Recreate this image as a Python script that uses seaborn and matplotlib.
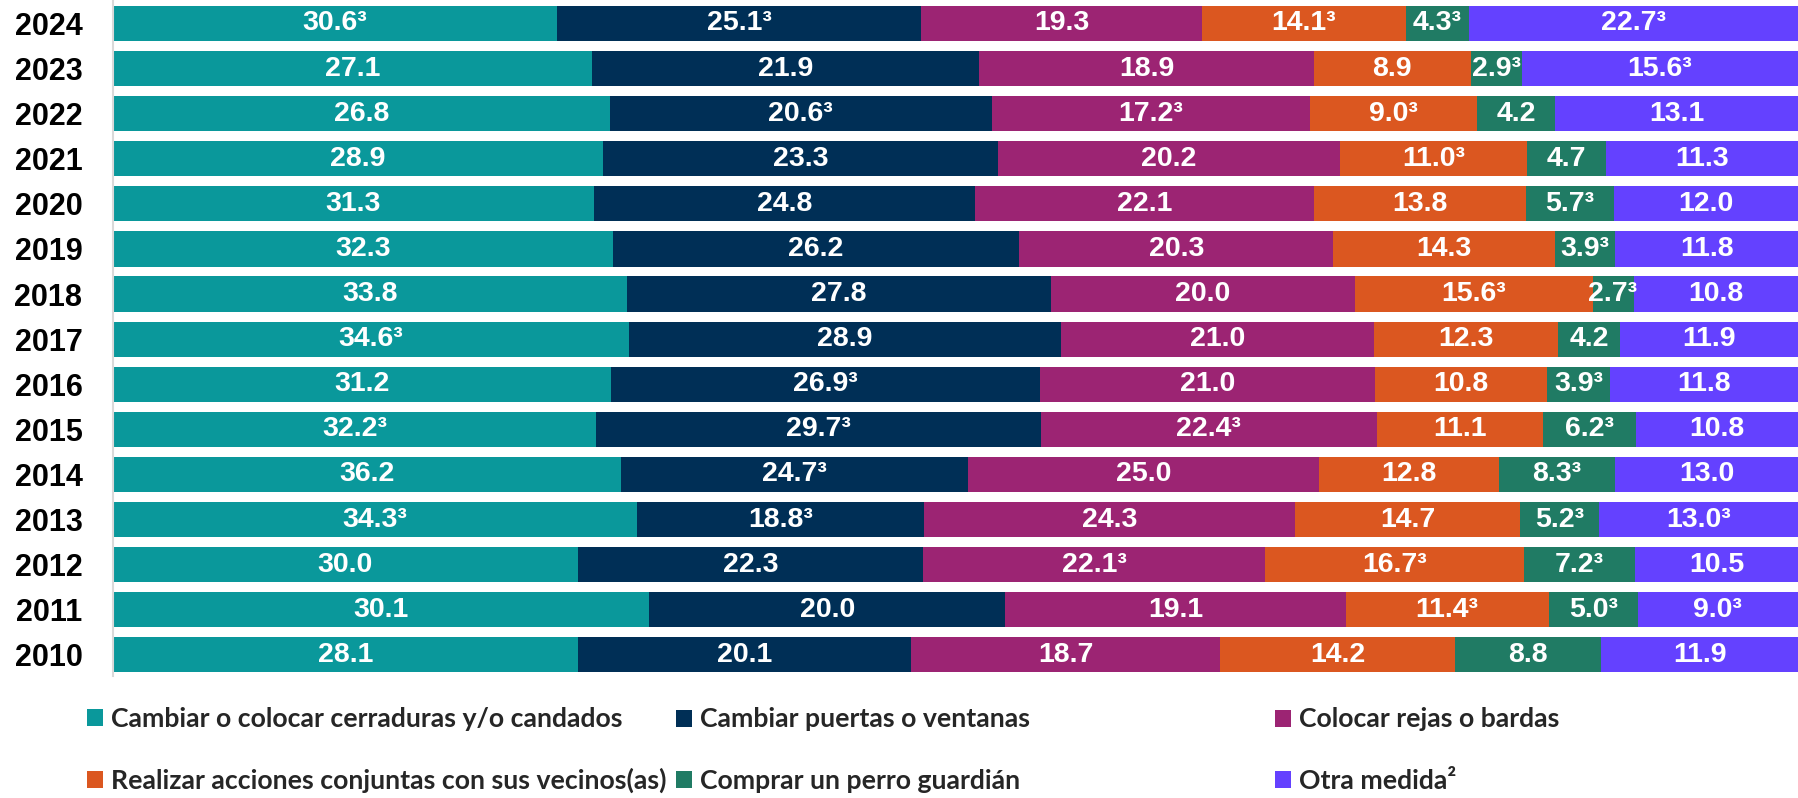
import numpy as np
import pandas as pd
import matplotlib
matplotlib.use("Agg")
import matplotlib.pyplot as plt
import matplotlib.colors as mcolors
from matplotlib.patches import Patch
import seaborn as sns

# ---------------- data ----------------
years = [2024, 2023, 2022, 2021, 2020, 2019, 2018, 2017, 2016, 2015, 2014, 2013, 2012, 2011, 2010]

series_names = [
    "Cambiar o colocar cerraduras y/o candados",
    "Cambiar puertas o ventanas",
    "Colocar rejas o bardas",
    "Realizar acciones conjuntas con sus vecinos(as)",
    "Comprar un perro guardián",
    "Otra medida²",
]

cerraduras = [30.6, 27.1, 26.8, 28.9, 31.3, 32.3, 33.8, 34.6, 31.2, 32.2, 36.2, 34.3, 30.0, 30.1, 28.1]
cerraduras_flag = [1, 0, 0, 0, 0, 0, 0, 1, 0, 1, 0, 1, 0, 0, 0]

puertas = [25.1, 21.9, 20.6, 23.3, 24.8, 26.2, 27.8, 28.9, 26.9, 29.7, 24.7, 18.8, 22.3, 20.0, 20.1]
puertas_flag = [1, 0, 1, 0, 0, 0, 0, 0, 1, 1, 1, 1, 0, 0, 0]

rejas = [19.3, 18.9, 17.2, 20.2, 22.1, 20.3, 20.0, 21.0, 21.0, 22.4, 25.0, 24.3, 22.1, 19.1, 18.7]
rejas_flag = [0, 0, 1, 0, 0, 0, 0, 0, 0, 1, 0, 0, 1, 0, 0]

vecinos = [14.1, 8.9, 9.0, 11.0, 13.8, 14.3, 15.6, 12.3, 10.8, 11.1, 12.8, 14.7, 16.7, 11.4, 14.2]
vecinos_flag = [1, 0, 1, 1, 0, 0, 1, 0, 0, 0, 0, 0, 1, 1, 0]

perro = [4.3, 2.9, 4.2, 4.7, 5.7, 3.9, 2.7, 4.2, 3.9, 6.2, 8.3, 5.2, 7.2, 5.0, 8.8]
perro_flag = [1, 1, 0, 0, 1, 1, 1, 0, 1, 1, 1, 1, 1, 1, 0]

otra = [22.7, 15.6, 13.1, 11.3, 12.0, 11.8, 10.8, 11.9, 11.8, 10.8, 13.0, 13.0, 10.5, 9.0, 11.9]
otra_flag = [1, 1, 0, 0, 0, 0, 0, 0, 0, 0, 0, 1, 0, 1, 0]

colors = ["#0A989B", "#002F56", "#9C2473", "#DB5720", "#207B64", "#6441FF"]

series_values = [cerraduras, puertas, rejas, vecinos, perro, otra]
series_flags = [cerraduras_flag, puertas_flag, rejas_flag, vecinos_flag, perro_flag, otra_flag]

# ---------------- figure ----------------
sns.set_theme(style="white")
plt.rcParams["font.family"] = ["Liberation Sans Narrow", "Liberation Sans", "DejaVu Sans"]

W, H = 1798, 798
fig = plt.figure(figsize=(W / 100, H / 100), dpi=100)
ax_left = 113 / W
ax_bottom = 1 - 676 / H
ax = fig.add_axes([ax_left, ax_bottom, 1 - ax_left, 1 - ax_bottom])

rows = []
for name, vals in zip(series_names, series_values):
    for y, v in zip(years, vals):
        rows.append({"year": y, "medida": name, "valor": v})
df = pd.DataFrame(rows)

palette = dict(zip(series_names, colors))
sns.histplot(
    data=df, y="year", hue="medida", weights="valor",
    multiple="fill", discrete=True, shrink=0.78,
    hue_order=series_names[::-1], palette=palette,
    alpha=1, linewidth=0, legend=False, ax=ax,
)

# value labels, matched by colour
rgb_list = [mcolors.to_rgb(c) for c in colors]
for p in ax.patches:
    fc = p.get_facecolor()[:3]
    idx = int(np.argmin([sum((a - b) ** 2 for a, b in zip(fc, c)) for c in rgb_list]))
    yc = p.get_y() + p.get_height() / 2
    yr = int(round(yc))
    if yr not in years:
        continue
    j = years.index(yr)
    v = series_values[idx][j]
    lab = f"{v:.1f}" + ("³" if series_flags[idx][j] else "")
    ax.text(p.get_x() + p.get_width() / 2, yc, lab, ha="center", va="center",
            color="white", fontsize=20.5, fontweight="bold")

ax.set_xlim(0, 1)
ax.set_ylim(2010 - 0.47, 2024 + 0.52)
ax.set_yticks(years)
ax.set_yticklabels([str(y) for y in years], fontsize=22, fontweight="bold",
                   family=["Liberation Sans", "DejaVu Sans"], color="black")
ax.set_xticks([])
ax.set_xlabel("")
ax.set_ylabel("")
ax.tick_params(axis="y", length=0, pad=22)
for s in ["top", "right", "bottom"]:
    ax.spines[s].set_visible(False)
ax.spines["left"].set_color("#D9D9D9")
ax.spines["left"].set_linewidth(1.5)

# legend: three columns, two rows
col_x = [87 / W, 676 / W, 1275 / W]
leg_font = {"family": ["Lato", "DejaVu Sans"], "weight": "bold", "size": 19.2}
for c in range(3):
    idxs = [c, c + 3]
    handles = [Patch(facecolor=colors[i], edgecolor="none") for i in idxs]
    labels = [series_names[i] for i in idxs]
    fig.legend(handles, labels, loc="center left", bbox_to_anchor=(col_x[c], 0.06),
               frameon=False, prop=leg_font, handlelength=0.6, handleheight=0.6,
               handletextpad=0.3, labelspacing=1.4, borderpad=0, borderaxespad=0)

fig.savefig("out.png", dpi=100)
